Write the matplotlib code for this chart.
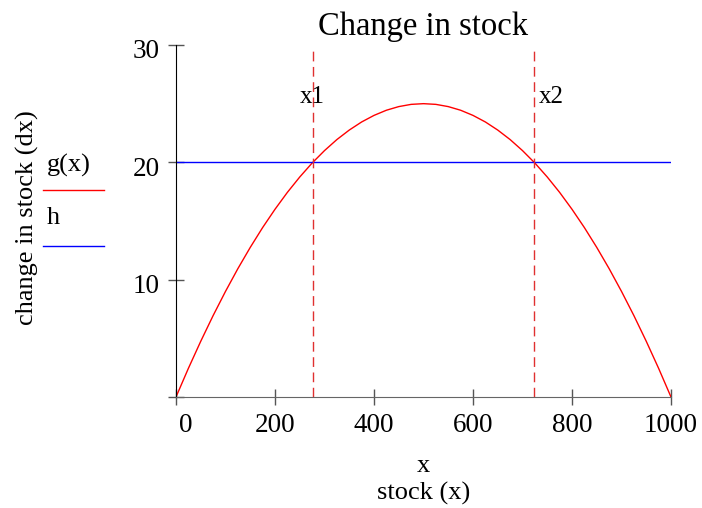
import matplotlib
matplotlib.use("Agg")
import matplotlib.pyplot as plt
import matplotlib.transforms as mtransforms
from matplotlib.lines import Line2D

plt.rcParams["font.family"] = ["Liberation Serif", "DejaVu Serif"]

# stock values and growth curve
stock = [0, 25, 50, 75, 100, 125, 150, 175, 200, 225, 250, 275, 300, 325, 350,
         375, 400, 425, 450, 475, 500, 525, 550, 575, 600, 625, 650, 675, 700,
         725, 750, 775, 800, 825, 850, 875, 900, 925, 950, 975, 1000]
growth = [0, 2.44, 4.75, 6.94, 9.0, 10.94, 12.75, 14.44, 16.0, 17.44, 18.75,
          19.94, 21.0, 21.94, 22.75, 23.44, 24.0, 24.44, 24.75, 24.94, 25.0,
          24.94, 24.75, 24.44, 24.0, 23.44, 22.75, 21.94, 21.0, 19.94, 18.75,
          17.44, 16.0, 14.44, 12.75, 10.94, 9.0, 6.94, 4.75, 2.44, 0]
harvest = 20
x1 = 276
x2 = 724
xticks = [0, 200, 400, 600, 800, 1000]
yticks = [0, 10, 20, 30]
ytick_labels = ["", "10", "20", "30"]

fig = plt.figure(figsize=(7.02, 5.08), dpi=100)
ax = fig.add_axes([176 / 702, 1 - 397 / 508, 495 / 702, 352 / 508])

ax.plot(stock, growth, color="red", lw=1)
ax.plot([stock[0], stock[-1]], [harvest, harvest], color="blue", lw=1)
ax.vlines([x1, x2], 0, 29.7, colors="#e03030", linestyles=(0, (7, 4)), lw=1)
ax.text(x1, 25.6, "x1", ha="center", va="center", fontsize=18)
ax.text(x2 + 8, 25.6, "x2", ha="left", va="center", fontsize=18)

ax.set_xlim(0, 1000)
ax.set_ylim(0, 30)
ax.set_xticks(xticks)
ax.set_yticks(yticks)
ax.set_yticklabels(ytick_labels)

for side in ["top", "right"]:
    ax.spines[side].set_visible(False)
ax.spines["left"].set_color("black")
ax.spines["bottom"].set_color("#666666")
ax.tick_params(direction="inout", length=11.5, width=1, color="#555555",
               labelsize=19.5, pad=6)

# nudge tick labels like the original
shift = mtransforms.ScaledTranslation(0, -4 / 100, fig.dpi_scale_trans)
for lab in ax.get_yticklabels():
    lab.set_transform(lab.get_transform() + shift)
lab0 = ax.get_xticklabels()[0]
lab0.set_transform(lab0.get_transform() +
                   mtransforms.ScaledTranslation(10 / 100, 0, fig.dpi_scale_trans))

ax.set_title("Change in stock", fontsize=23.5, pad=7)
ax.set_xlabel("x\nstock (x)", fontsize=19, linespacing=1.3, labelpad=12)
fig.text(27 / 702, 1 - 218 / 508, "change in stock (dx)", rotation=90,
         ha="center", va="center", fontsize=19)

# legend drawn by hand on the left
fig.text(47 / 702, 1 - 165 / 508, "g(x)", ha="left", va="center", fontsize=19)
fig.add_artist(Line2D([43 / 702, 104 / 702], [1 - 190 / 508, 1 - 190 / 508],
                      color="red", lw=1, transform=fig.transFigure))
fig.text(47 / 702, 1 - 218 / 508, "h", ha="left", va="center", fontsize=19)
fig.add_artist(Line2D([43 / 702, 104 / 702], [1 - 246 / 508, 1 - 246 / 508],
                      color="blue", lw=1, transform=fig.transFigure))

fig.savefig("out.png", dpi=100)
